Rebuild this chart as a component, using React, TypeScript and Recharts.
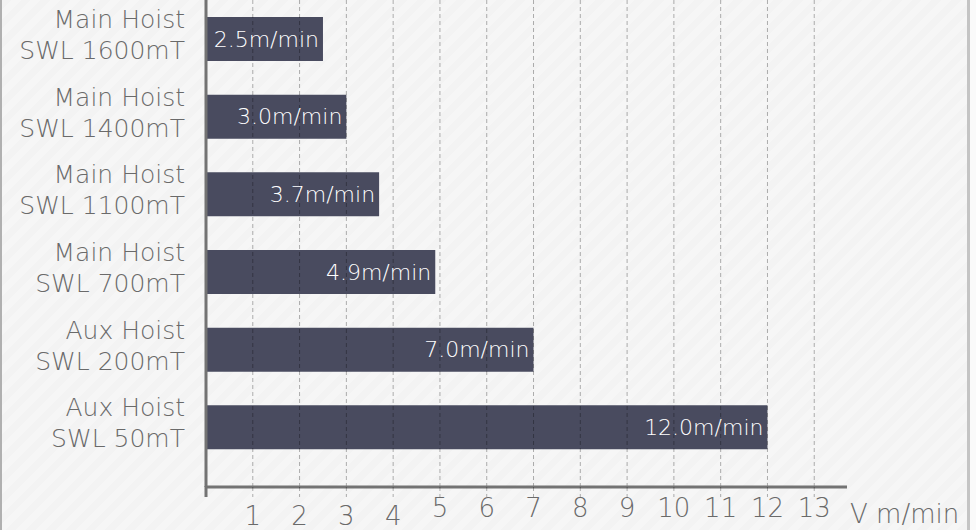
import React from 'react';
import { BarChart, Bar, XAxis, YAxis, ReferenceLine, LabelList } from 'recharts';

const hoistNames = ['Main Hoist', 'Main Hoist', 'Main Hoist', 'Main Hoist', 'Aux Hoist', 'Aux Hoist'];
const hoistLoads = ['SWL 1600mT', 'SWL 1400mT', 'SWL 1100mT', 'SWL 700mT', 'SWL 200mT', 'SWL 50mT'];
const speeds = [2.5, 3.0, 3.7, 4.9, 7.0, 12.0];
const xTicks = [0, 1, 2, 3, 4, 5, 6, 7, 8, 9, 10, 11, 12, 13];
const gridTicks = [1, 2, 3, 4, 5, 6, 7, 8, 9, 10, 11, 12, 13];
const lowTicks = [1, 2, 3, 4];
const unitLabel = 'V m/min';

const data = speeds.map((v, i) => ({ key: String(i), name: hoistNames[i], load: hoistLoads[i], speed: v }));

const FONT = '"DejaVu Sans", sans-serif';
const TEXT = '#6a6a6a';

const YTick = (props: any) => {
  const { x, y, payload } = props;
  const d = data[Number(payload.value)];
  return (
    <text x={x} y={y} textAnchor="end" fill={TEXT} fontFamily={FONT} fontWeight={200} fontSize={25}>
      <tspan x={x} y={y - 11}>{d ? d.name : ''}</tspan>
      <tspan x={x} y={y + 20}>{d ? d.load : ''}</tspan>
    </text>
  );
};

const XTick = (props: any) => {
  const { x, y, payload } = props;
  const v = payload.value;
  if (v === 0) {
    return <line x1={x} x2={x} y1={y - 11} y2={y} stroke="#737373" strokeWidth={3} />;
  }
  const low = lowTicks.includes(v);
  return (
    <g>
      <line x1={x} x2={x} y1={y - 10} y2={y} stroke="#000" strokeOpacity={0.3} strokeDasharray="4 3" />
      <text x={x} y={low ? y + 28 : y + 20} textAnchor="middle" fill={TEXT} fontFamily={FONT} fontWeight={200} fontSize={26}>
        {v}
      </text>
    </g>
  );
};

const UnitLabel = (props: any) => {
  const vb = props.viewBox || {};
  return (
    <text x={vb.x + vb.width + 3} y={vb.y + 36} textAnchor="start" fill={TEXT} fontFamily={FONT} fontWeight={200} fontSize={26}>
      {unitLabel}
    </text>
  );
};

export default function App() {
  return (
    <div
      style={{
        position: 'absolute',
        left: 0,
        top: 0,
        width: 976,
        height: 530,
        background: 'repeating-linear-gradient(-45deg, #f6f6f6 0px, #f6f6f6 7px, #f3f3f3 7px, #f3f3f3 14px)',
        overflow: 'hidden',
      }}
    >
      <div style={{ position: 'absolute', left: 0, top: 0, width: 2, height: 530, background: '#b0b0b0' }} />
      <div style={{ position: 'absolute', left: 967, top: 0, width: 3, height: 530, background: '#c4c4c4' }} />
      <div style={{ position: 'absolute', left: 970, top: 0, width: 6, height: 530, background: '#fafafa' }} />
      <div style={{ position: 'absolute', left: 0, top: 0 }}>
        <BarChart
          width={976}
          height={530}
          data={data}
          layout="vertical"
          margin={{ top: 0, right: 129, bottom: 0, left: 0 }}
          barCategoryGap={0}
        >
          <XAxis
            type="number"
            dataKey="speed"
            domain={[0, 13.7]}
            ticks={xTicks}
            interval={0}
            height={43}
            axisLine={{ stroke: '#737373', strokeWidth: 3 }}
            tickLine={false}
            tickSize={10}
            tickMargin={0}
            tick={<XTick />}
            label={<UnitLabel />}
            allowDataOverflow
          />
          <YAxis
            type="category"
            dataKey="key"
            width={206}
            axisLine={{ stroke: '#737373', strokeWidth: 3 }}
            tickLine={false}
            tickSize={0}
            tickMargin={21}
            tick={<YTick />}
            interval={0}
            padding={{ top: 0, bottom: 21 }}
          />
          <Bar dataKey="speed" fill="#494b5f" barSize={44} isAnimationActive={false}>
            <LabelList
              dataKey="speed"
              position="insideRight"
              offset={4}
              formatter={(v: any) => Number(v).toFixed(1) + 'm/min'}
              fill="#ffffff"
              fontFamily={FONT}
              fontWeight={200}
              fontSize={22}
            />
          </Bar>
          {gridTicks.map((t) => (
            <ReferenceLine key={t} x={t} stroke="#000" strokeOpacity={0.3} strokeDasharray="4 3" />
          ))}
        </BarChart>
      </div>
    </div>
  );
}
